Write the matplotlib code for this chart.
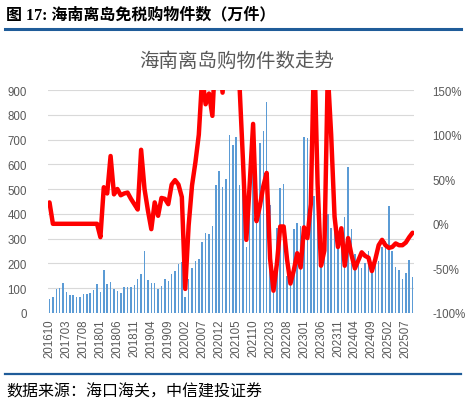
import matplotlib
matplotlib.use("Agg")
import matplotlib.pyplot as plt
import numpy as np
import pandas as pd

# ---- data ----
months = list(pd.period_range("2016-10", periods=108, freq="M").strftime("%Y%m"))

items = [57, 66, 98, 99, 123, 86, 71, 71, 65, 63,
         78, 78, 82, 93, 117, 85, 173, 119, 127, 96,
         90, 82, 106, 106, 106, 114, 136, 157, 249, 134,
         122, 121, 98, 108, 137, 129, 156, 171, 198, 206,
         64, 138, 182, 211, 217, 286, 323, 320, 351, 517,
         574, 508, 542, 719, 678, 712, 517, 520, 268, 460,
         740, 540, 686, 736, 851, 436, 170, 343, 503, 521,
         150, 160, 340, 365, 350, 711, 707, 530, 472, 500,
         267, 365, 400, 343, 364, 270, 333, 389, 590, 338,
         238, 227, 182, 202, 252, 164, 205, 209, 268, 292,
         433, 252, 187, 174, 137, 160, 214, 147]

yoy = [24, 0, 0, 0, 0, 0, 0, 0, 0, 0,
       0, 0, 0, 0, 0, -15, 41, 34, 76, 33,
       39, 32, 34, 35, 28, 22, 16, 83, 39, 15,
       -6, 24, 9, 29, 28, 22, 44, 49, 44, 30,
       -73, -2, 43, 69, 100, 165, 134, 146, 121, 202,
       190, 147, 210, 240, 212, 237, 155, 72, -18, 45,
       112, 3, 20, 42, 57, -39, -75, -45, -3, -3,
       -40, -67, -52, -33, -49, -4, -16, 22, 200, 45,
       -47, -30, 170, 100, 8, -26, -5, -47, -16, -35,
       -50, -41, -32, -36, -38, -53, -40, -24, -18, -24,
       -27, -26, -22, -24, -24, -21, -15, -10]

left_ticks = [0, 100, 200, 300, 400, 500, 600, 700, 800, 900]
right_ticks = [-100, -50, 0, 50, 100, 150]

# ---- figure ----
W, H = 466, 406
fig = plt.figure(figsize=(W / 100, H / 100), dpi=100)
cjk = ["Noto Sans CJK SC", "DejaVu Sans"]
num_font = "Liberation Sans"
gray = "#595959"

ax = fig.add_axes([47.8 / W, 1 - 314 / H, (414.3 - 47.8) / W, (314 - 91) / H])
x = np.arange(len(items))
ax.bar(x, items, width=0.45, color="#5B9BD5", zorder=2)
ax.set_xlim(-0.5, len(items) - 0.5)
ax.set_ylim(0, 900)
ax.set_yticks(left_ticks)
ax.set_yticklabels([str(v) for v in left_ticks], fontsize=8.3, color=gray, family=num_font)
ax.grid(axis="y", color="#D9D9D9", linewidth=0.8, zorder=0)
ax.set_axisbelow(True)
for s in ax.spines.values():
    s.set_visible(False)
ax.tick_params(axis="y", length=0, pad=15)
ax.set_xticks(x[::5])
ax.set_xticklabels(months[::5], rotation=90, fontsize=8.3, color=gray, family=num_font)
ax.tick_params(axis="x", length=0, pad=4)

ax2 = ax.twinx()
ax2.plot(x, yoy, color="#FF0000", linewidth=3.2, solid_joinstyle="round",
         solid_capstyle="round", zorder=3)
ax2.set_ylim(-100, 150)
ax2.set_yticks(right_ticks)
ax2.set_yticklabels([f"{v}%" for v in right_ticks], fontsize=8.3, color=gray, family=num_font)
ax2.tick_params(axis="y", length=0, pad=13)
for s in ax2.spines.values():
    s.set_visible(False)

# ---- texts and rules ----
fig.text(6 / W, 1 - 15 / H, "图 17: 海南离岛免税购物件数（万件）", fontsize=11.5,
         fontweight="bold", family=["Liberation Serif", "Noto Sans CJK SC"],
         ha="left", va="center", color="black")
fig.add_artist(plt.Line2D([5 / W, 461 / W], [1 - 29.5 / H, 1 - 29.5 / H],
                          color="#1F5C99", linewidth=2.2))
fig.text(237 / W, 1 - 61 / H, "海南离岛购物件数走势", fontsize=14, family=cjk,
         ha="center", va="center", color=gray)
fig.add_artist(plt.Line2D([5 / W, 461 / W], [1 - 375 / H, 1 - 375 / H],
                          color="#1F5C99", linewidth=1.6))
fig.text(6 / W, 1 - 392 / H, "数据来源：海口海关，中信建投证券", fontsize=11.5,
         family=cjk, ha="left", va="center", color="black")

fig.savefig("out.png", dpi=100)
